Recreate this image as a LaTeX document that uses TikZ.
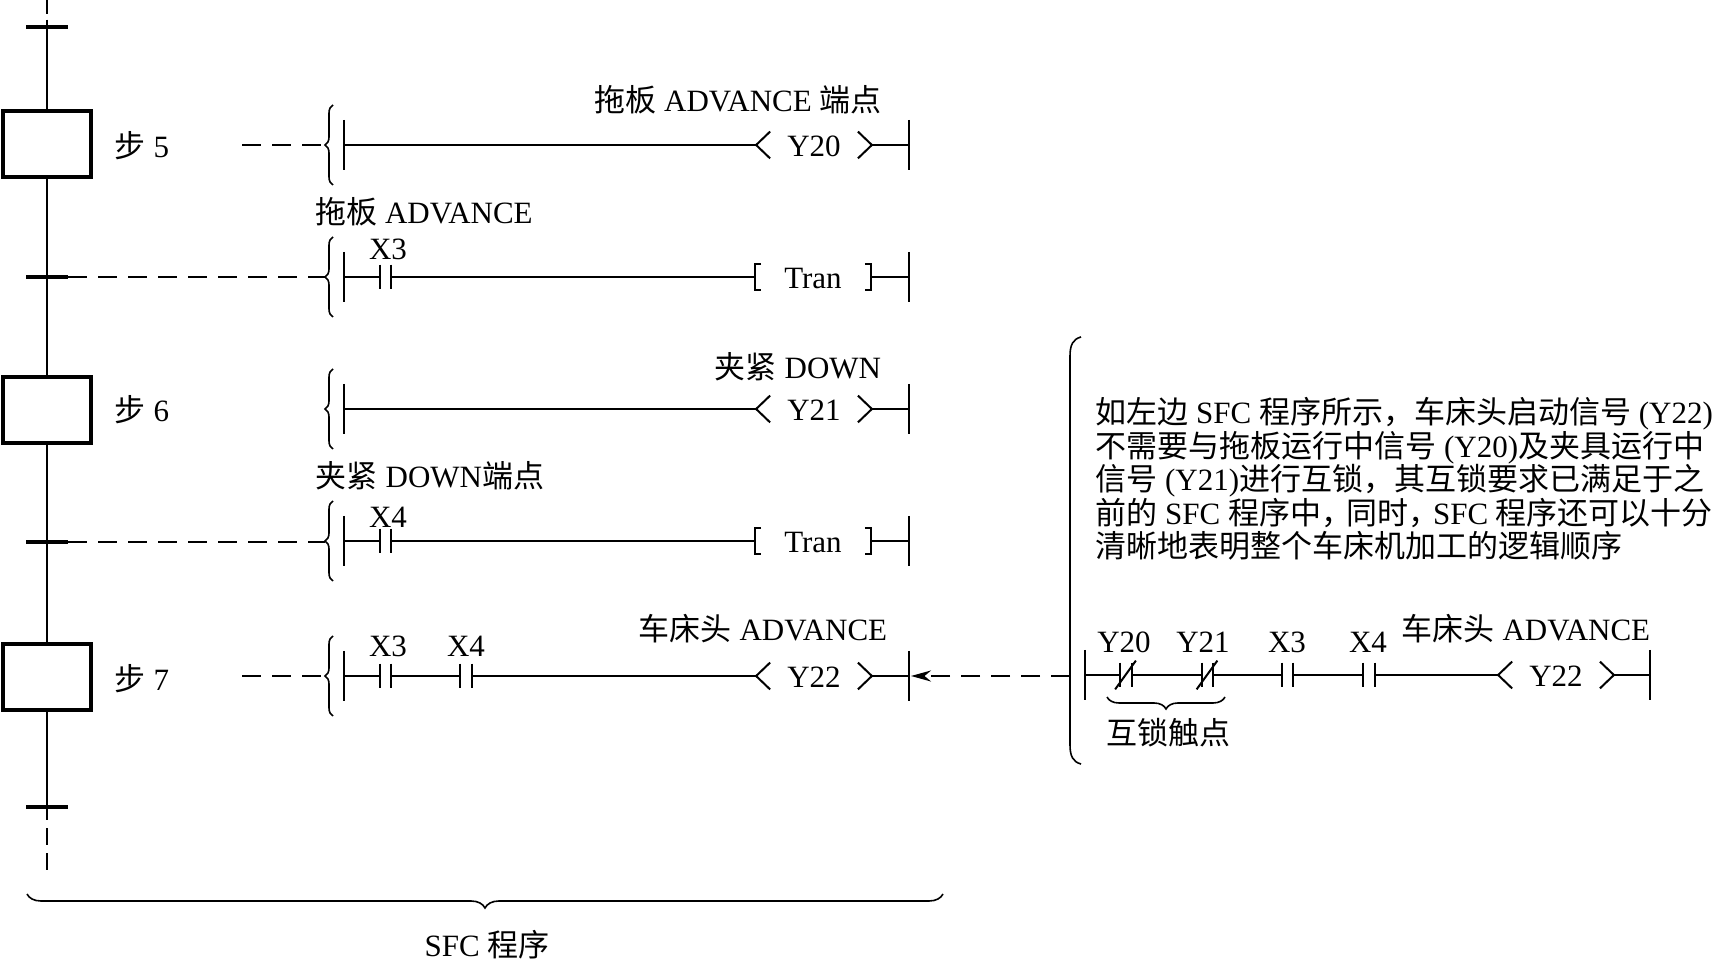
\documentclass[tikz,border=0pt]{standalone}
\usepackage{fontspec}
\setmainfont{Liberation Serif}
\newfontfamily\cjk{Noto Sans CJK SC}
\newcommand{\zh}[1]{{\cjk #1}}
\usetikzlibrary{arrows.meta,decorations.pathreplacing}

\tikzset{
  every node/.style={inner sep=0pt,font=\fontsize{15.5}{16.75}\selectfont},
  trunk/.style={line width=1.3pt},
  wire/.style={line width=1.35pt},
  rail/.style={line width=1pt},
  dashline/.style={line width=1.2pt,dash pattern=on 9.5pt off 5.5pt},
  stepbox/.style={draw,line width=2.2pt,minimum width=44pt,minimum height=33pt},
  tickmark/.style={fill=black,minimum width=21pt,minimum height=2pt},
  contact/.style={minimum width=5.5pt,minimum height=12pt},
  coil/.style={minimum width=57.5pt,minimum height=13pt,text height=11.5pt},
  curly/.style={line width=.8pt,decorate,decoration={brace,amplitude=#1}},
  curly/.default=4pt,
}

\newcommand{\plates}[1]{
  \draw[rail] (#1.north west) -- (#1.south west);
  \draw[rail] (#1.north east) -- (#1.south east);
}
\newcommand{\chevrons}[1]{
  \draw[rail] ([xshift=7pt]#1.north west) -- (#1.west) -- ([xshift=7pt]#1.south west);
  \draw[rail] ([xshift=-7pt]#1.north east) -- (#1.east) -- ([xshift=-7pt]#1.south east);
}
\newcommand{\brackets}[1]{
  \draw[rail] ([xshift=3pt]#1.north west) -- (#1.north west) -- (#1.south west) -- ([xshift=3pt]#1.south west);
  \draw[rail] ([xshift=-3pt]#1.north east) -- (#1.north east) -- (#1.south east) -- ([xshift=-3pt]#1.south east);
}

\begin{document}
\begin{tikzpicture}[x=.5pt,y=-.5pt]
\useasboundingbox (0,0) rectangle (1713,961);

% step column
\node[tickmark] (tick1) at (47,27) {};
\node[tickmark] (tick2) at (47,277) {};
\node[tickmark] (tick3) at (47,542) {};
\node[tickmark] (tick4) at (47,807) {};
\node[stepbox] (step5) at (47,144) {};
\node[stepbox] (step6) at (47,410) {};
\node[stepbox] (step7) at (47,677) {};
\node (lab5) at (142,146) {\zh{步} 5};
\node (lab6) at (142,410) {\zh{步} 6};
\node (lab7) at (142,679) {\zh{步} 7};

\coordinate (top1) at (47,0);
\coordinate (top2) at (47,14);
\coordinate (end1) at (47,820);
\coordinate (end2) at (47,828);
\coordinate (end3) at (47,871);
\draw[trunk] (top1) -- (top2);
\draw[trunk] ([yshift=2.5pt]tick1.north) -- (step5.north);
\draw[trunk] (step5.south) -- (step6.north);
\draw[trunk] (step6.south) -- (step7.north);
\draw[trunk] (step7.south) -- (end1);
\draw[trunk,dash pattern=on 8.5pt off 4pt] (end2) -- (end3);

% rails and braces of the five rungs
\foreach \nm/\yy in {a/145,b/277,c/409,d/541,e/676} {
  \coordinate (left\nm) at (344,\yy);
  \coordinate (right\nm) at (909,\yy);
  \coordinate (tip\nm) at (325,\yy);
  \draw[rail] (344,\yy-25) -- (344,\yy+25);
  \draw[rail] (909,\yy-25) -- (909,\yy+25);
  \draw[curly] (333,\yy+40) -- (333,\yy-40);
}

% rung a
\node[coil] (coila) at (814,145) {Y20};
\chevrons{coila}
\draw[wire] (lefta) -- (coila.west);
\draw[wire] (coila.east) -- (righta);
\node (texta) at (738,100) {\zh{拖板} ADVANCE \zh{端点}};
\coordinate (from5) at (242,145);
\draw[dashline] (from5) -- (tipa);

% rung b
\node (textb) at (424,212) {\zh{拖板} ADVANCE};
\node (xb) at (388,249) {X3};
\node[contact] (kb) at (385.5,277) {};
\plates{kb}
\node[coil] (tranb) at (813,277) {Tran};
\brackets{tranb}
\draw[wire] (leftb) -- (kb.west);
\draw[wire] (kb.east) -- (tranb.west);
\draw[wire] (tranb.east) -- (rightb);
\draw[dashline] (tick2.east) -- (tipb);

% rung c
\node[coil] (coilc) at (814,409) {Y21};
\chevrons{coilc}
\draw[wire] (leftc) -- (coilc.west);
\draw[wire] (coilc.east) -- (rightc);
\node (textc) at (798,367) {\zh{夹紧} DOWN};

% rung d
\node (textd) at (430,476) {\zh{夹紧} DOWN\zh{端点}};
\node (xd) at (388,517) {X4};
\node[contact] (kd) at (385.5,541) {};
\plates{kd}
\node[coil] (trand) at (813,541) {Tran};
\brackets{trand}
\draw[wire] (leftd) -- (kd.west);
\draw[wire] (kd.east) -- (trand.west);
\draw[wire] (trand.east) -- (rightd);
\coordinate (tipd2) at (325,542);
\draw[dashline] (tick3.east) -- (tipd2);

% rung e
\node (texte) at (763,629) {\zh{车床头} ADVANCE};
\node (xe1) at (388,646) {X3};
\node (xe2) at (466,646) {X4};
\node[contact] (ke1) at (385.5,676) {};
\node[contact] (ke2) at (466,676) {};
\plates{ke1}
\plates{ke2}
\node[coil] (coile) at (814,676) {Y22};
\chevrons{coile}
\draw[wire] (lefte) -- (ke1.west);
\draw[wire] (ke1.east) -- (ke2.west);
\draw[wire] (ke2.east) -- (coile.west);
\draw[wire] (coile.east) -- (righte);
\coordinate (from7) at (242,676);
\draw[dashline] (from7) -- (tipe);

% brace under the SFC part
\draw[curly=7pt] (943,894) -- (27,894);
\node (sfc) at (487,945) {SFC \zh{程序}};

% right part
\draw[line width=.8pt] (1081,337) .. controls (1073,339) and (1070,345) .. (1070,356)
  -- (1070,745) .. controls (1070,756) and (1073,762) .. (1081,764);
\node[anchor=north west,align=left] (note) at (1095,397) {%
\zh{如左边} SFC \zh{程序所示，车床头启动信号} (Y22)\\
\zh{不需要与拖板运行中信号} (Y20)\zh{及夹具运行中}\\
\zh{信号} (Y21)\zh{进行互锁，其互锁要求已满足于之}\\
\zh{前的} SFC \zh{程序中，\kern-3pt 同时，\kern-3pt}SFC \zh{程序还可以十分}\\
\zh{清晰地表明整个车床机加工的逻辑顺序}};

\coordinate (brk) at (1070,676);
\coordinate (railL) at (1085,675);
\coordinate (railR) at (1650,675);
\draw[rail] (1085,650) -- (1085,700);
\draw[rail] (1650,650) -- (1650,700);
\draw[dashline,-{Stealth[length=10pt,width=5.5pt]}] (brk) -- ([xshift=1pt]righte);
\node (yn1) at (1124,642) {Y20};
\node (yn2) at (1203,642) {Y21};
\node (xn1) at (1287,642) {X3};
\node (xn2) at (1368,642) {X4};
\node[contact] (n1) at (1126,675) {};
\node[contact] (n2) at (1207.5,675) {};
\node[contact] (n3) at (1287.5,675) {};
\node[contact] (n4) at (1369,675) {};
\plates{n1}
\plates{n2}
\plates{n3}
\plates{n4}
\draw[rail] ([shift={(-2.5pt,-1pt)}]n1.south west) -- ([shift={(2pt,1pt)}]n1.north east);
\draw[rail] ([shift={(-2.5pt,-1pt)}]n2.south west) -- ([shift={(2pt,1pt)}]n2.north east);
\node[coil] (coiln) at (1556,675) {Y22};
\chevrons{coiln}
\draw[wire] (railL) -- (n1.west);
\draw[wire] (n1.east) -- (n2.west);
\draw[wire] (n2.east) -- (n3.west);
\draw[wire] (n3.east) -- (n4.west);
\draw[wire] (n4.east) -- (coiln.west);
\draw[wire] (coiln.east) -- (railR);
\node (textn) at (1526,629) {\zh{车床头} ADVANCE};
\draw[curly=6pt] (1225,697) -- (1107,697);
\node (lock) at (1168,733) {\zh{互锁触点}};
\end{tikzpicture}
\end{document}
